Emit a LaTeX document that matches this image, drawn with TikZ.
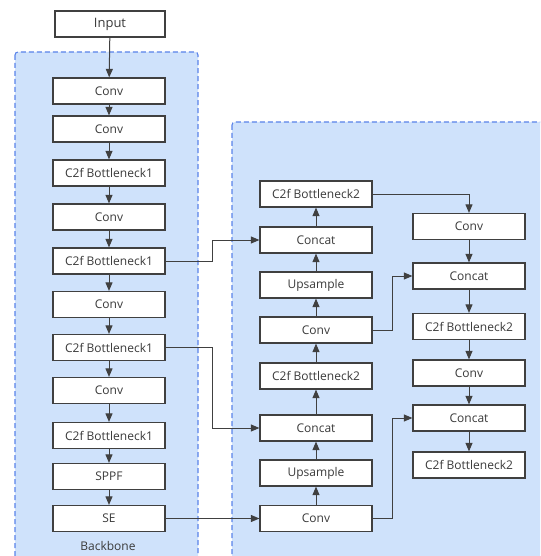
\documentclass[tikz,border=0pt]{standalone}
\usepackage{fontspec}
\setmainfont{Open Sans}
\usetikzlibrary{arrows.meta}
\definecolor{regfill}{HTML}{CFE2FB}
\definecolor{regline}{HTML}{5A83EA}
\definecolor{boxline}{HTML}{404040}
\definecolor{txt}{HTML}{3A3A3A}
\tikzset{
  blk/.style={draw=boxline, line width=1.2pt, fill=white, minimum width=112pt, minimum height=26pt, inner sep=0pt, font=\fontsize{12}{14}\selectfont, text=txt},
  region/.style={draw=regline, fill=regfill, line width=1.1pt, dash pattern=on 5pt off 3pt, rounded corners=3pt},
  conn/.style={draw=boxline, line width=1pt, -{Triangle[length=8.5pt,width=7pt]}},
}
\begin{document}
\begin{tikzpicture}[x=1pt,y=-1pt]
\useasboundingbox (0,0) rectangle (540,556);
\clip (0,0) rectangle (540,556);
\fill[white] (0,0) rectangle (540,556);
\path[region] (15,52) rectangle (198,570);
\path[region] (232,122) rectangle (560,570);
% backbone
\node[blk, minimum width=110pt, font=\fontsize{13}{15}\selectfont] (in) at (110,24) {Input};
\node[blk] (b1) at (109,91) {Conv};
\node[blk] (b2) at (109,129) {Conv};
\node[blk] (b3) at (109,173) {C2f Bottleneck1};
\node[blk] (b4) at (109,217) {Conv};
\node[blk] (b5) at (109,261) {C2f Bottleneck1};
\node[blk] (b6) at (109,304.5) {Conv};
\node[blk] (b7) at (109,347.5) {C2f Bottleneck1};
\node[blk] (b8) at (109,390.5) {Conv};
\node[blk] (b9) at (109,435.5) {C2f Bottleneck1};
\node[blk] (b10) at (109,476.5) {SPPF};
\node[blk] (b11) at (109,518.5) {SE};
\node[font=\fontsize{12}{14}\selectfont, text=txt] (bl) at (108,546) {Backbone};
% neck left
\node[blk] (n1) at (316,194) {C2f Bottleneck2};
\node[blk] (n2) at (316,240) {Concat};
\node[blk] (n3) at (316,285) {Upsample};
\node[blk] (n4) at (316,330) {Conv};
\node[blk] (n5) at (316,376) {C2f Bottleneck2};
\node[blk] (n6) at (316,428) {Concat};
\node[blk] (n7) at (316,473) {Upsample};
\node[blk] (n8) at (316,518.5) {Conv};
% neck right
\node[blk] (r1) at (469,226.5) {Conv};
\node[blk] (r2) at (469,276) {Concat};
\node[blk] (r3) at (469,326.5) {C2f Bottleneck2};
\node[blk] (r4) at (469,373) {Conv};
\node[blk] (r5) at (469,418) {Concat};
\node[blk] (r6) at (469,465) {C2f Bottleneck2};
% backbone chain
\foreach \a/\b in {in/b1,b1/b2,b2/b3,b3/b4,b4/b5,b5/b6,b6/b7,b7/b8,b8/b9,b9/b10,b10/b11}
  \draw[conn] (\a) -- (\b);
% neck left upward
\foreach \a/\b in {n8/n7,n7/n6,n6/n5,n5/n4,n4/n3,n3/n2,n2/n1}
  \draw[conn] (\a) -- (\b);
% right downward
\foreach \a/\b in {r1/r2,r2/r3,r3/r4,r4/r5,r5/r6}
  \draw[conn] (\a) -- (\b);
% cross links
\draw[conn] (b5.east) -| (212,240) -- (n2.west);
\draw[conn] (b7.east) -| (212,428) -- (n6.west);
\draw[conn] (b11.east) -- (n8.west);
\draw[conn] (n1.east) -| (r1.north);
\draw[conn] (n4.east) -| (392,276) -- (r2.west);
\draw[conn] (n8.east) -| (392,418) -- (r5.west);
\end{tikzpicture}
\end{document}
